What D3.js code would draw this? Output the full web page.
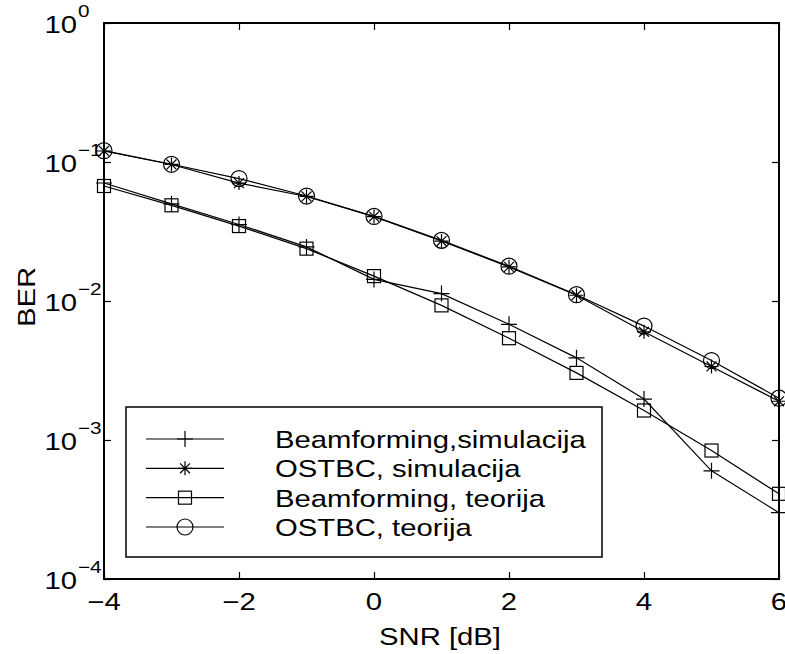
<!DOCTYPE html>
<html>
<head>
<meta charset="utf-8">
<script src="https://d3js.org/d3.v7.min.js"></script>
<style>
  body { margin: 0; background: #fff; }
  text { font-family: "Liberation Sans", Arial, Helvetica, sans-serif; fill: #000; }
</style>
</head>
<body>
<svg id="chart" width="785" height="654"></svg>
<script>
// SNR points (dB)
var snr = [-4, -3, -2, -1, 0, 1, 2, 3, 4, 5, 6];

// BER values
var bfSim       = [0.0706, 0.0500, 0.0355, 0.0245, 0.0143, 0.0113, 0.0068, 0.0039, 0.00197, 0.00060, 0.00030];
var ostbcSim    = [0.1200, 0.0960, 0.0705, 0.0565, 0.0405, 0.0270, 0.0176, 0.0110, 0.0060, 0.00338, 0.00190];
var bfTheory    = [0.0672, 0.0488, 0.0346, 0.0238, 0.0151, 0.0093, 0.0054, 0.00304, 0.00163, 0.00084, 0.00041];
var ostbcTheory = [0.1206, 0.0963, 0.0760, 0.0569, 0.0406, 0.0273, 0.0178, 0.0111, 0.0066, 0.00373, 0.00200];

var seriesNames = ["Beamforming,simulacija", "OSTBC, simulacija", "Beamforming, teorija", "OSTBC, teorija"];
var seriesMarkers = ["plus", "star", "square", "circle"];
var seriesValues = [bfSim, ostbcSim, bfTheory, ostbcTheory];

var xTicks = [-4, -2, 0, 2, 4, 6];
var yTicks = [1e-4, 1e-3, 1e-2, 1e-1, 1];

var svg = d3.select("#chart");
var pLeft = 104, pRight = 779, pTop = 23, pBottom = 579;
var stretch = 1.22; // the original figure text is a bit wide

var x = d3.scaleLinear().domain([-4, 6]).range([pLeft, pRight]);
var y = d3.scaleLog().domain([1e-4, 1]).range([pBottom, pTop]);

// text helper, horizontally stretched
function label(parent, tx, ty, str, size, anchor) {
  return parent.append("text")
    .attr("transform", "translate(" + tx + "," + ty + ") scale(" + stretch + ",1)")
    .attr("text-anchor", anchor || "start")
    .style("font-size", size + "px")
    .text(str);
}

// markers
function drawMarker(g, type) {
  if (type == "plus") {
    g.append("path").attr("d", "M-8,0H8M0,-8V8");
  } else if (type == "star") {
    var r = 7, d = r * Math.SQRT1_2;
    g.append("path").attr("d", "M" + (-r) + ",0H" + r + "M0," + (-r) + "V" + r +
      "M" + (-d) + "," + (-d) + "L" + d + "," + d + "M" + (-d) + "," + d + "L" + d + "," + (-d));
  } else if (type == "square") {
    g.append("rect").attr("x", -6.5).attr("y", -6.5).attr("width", 13).attr("height", 13);
  } else if (type == "circle") {
    g.append("circle").attr("r", 8);
  }
}

// lines + markers
var line = d3.line()
  .x(function(d, i) { return x(snr[i]); })
  .y(function(d) { return y(d); });

seriesValues.forEach(function(vals, s) {
  svg.append("path")
    .attr("d", line(vals))
    .attr("fill", "none")
    .attr("stroke", "#000")
    .attr("stroke-width", 1.2);
  vals.forEach(function(v, i) {
    var g = svg.append("g")
      .attr("transform", "translate(" + x(snr[i]) + "," + y(v) + ")")
      .attr("fill", "none")
      .attr("stroke", "#000")
      .attr("stroke-width", 1.2);
    drawMarker(g, seriesMarkers[s]);
  });
});

// axes (ticks point inward, like matlab)
var gx = svg.append("g").attr("transform", "translate(0," + pBottom + ")")
  .call(d3.axisBottom(x).tickValues(xTicks).tickSize(-7).tickFormat(""));
var gxt = svg.append("g").attr("transform", "translate(0," + pTop + ")")
  .call(d3.axisTop(x).tickValues(xTicks).tickSize(-7).tickFormat(""));
var gy = svg.append("g").attr("transform", "translate(" + pLeft + ",0)")
  .call(d3.axisLeft(y).tickValues(yTicks).tickSize(-7).tickFormat(""));
var gyr = svg.append("g").attr("transform", "translate(" + pRight + ",0)")
  .call(d3.axisRight(y).tickValues(yTicks).tickSize(-7).tickFormat(""));

[gx, gxt, gy, gyr].forEach(function(g) {
  g.select(".domain").remove();
  g.selectAll("line").attr("stroke", "#000").attr("stroke-width", 1.2);
});

// x tick labels
xTicks.forEach(function(t) {
  label(svg, x(t), pBottom + 31, t < 0 ? "\u2212" + Math.abs(t) : String(t), 24, "middle");
});

// y tick labels 10^n
yTicks.forEach(function(t) {
  var e = Math.round(Math.log10(t));
  label(svg, 77, y(t) + 10, "10", 24, "end");
  label(svg, 78, y(t) - 6, e == 0 ? "0" : "\u2212" + Math.abs(e), 17, "start");
});

// plot box
svg.append("rect")
  .attr("x", pLeft).attr("y", pTop)
  .attr("width", pRight - pLeft).attr("height", pBottom - pTop)
  .attr("fill", "none").attr("stroke", "#000").attr("stroke-width", 2);

// axis labels
label(svg, 440, 645, "SNR [dB]", 24, "middle");

svg.append("text")
  .attr("transform", "translate(35,297) rotate(-90) scale(" + stretch + ",1)")
  .attr("text-anchor", "middle")
  .style("font-size", "24px")
  .text("BER");

// legend
var leg = svg.append("g");
leg.append("rect")
  .attr("x", 126).attr("y", 407).attr("width", 476).attr("height", 150)
  .attr("fill", "#fff").attr("stroke", "#000").attr("stroke-width", 1.5);

var rowY = d3.scalePoint().domain(d3.range(4)).range([439, 527]);
seriesNames.forEach(function(name, s) {
  var yy = rowY(s);
  leg.append("line")
    .attr("x1", 146).attr("x2", 224).attr("y1", yy).attr("y2", yy)
    .attr("stroke", "#000").attr("stroke-width", 1.2);
  var g = leg.append("g")
    .attr("transform", "translate(185," + yy + ")")
    .attr("fill", "none").attr("stroke", "#000").attr("stroke-width", 1.2);
  drawMarker(g, seriesMarkers[s]);
  label(leg, 275, yy + 9, name, 24, "start");
});
</script>
</body>
</html>
